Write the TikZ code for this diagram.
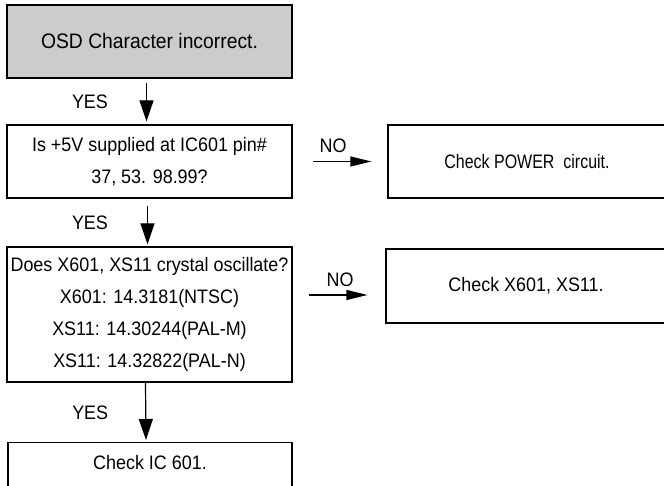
\documentclass[tikz,border=0pt]{standalone}
\usepackage{fontspec}
\setmainfont{Liberation Sans}[FakeStretch=0.92]
\newfontfamily\narrowfont{Liberation Sans}[FakeStretch=0.82]
\usetikzlibrary{positioning, calc, arrows.meta}

\begin{document}
\begin{tikzpicture}[
    x=1pt, y=1pt,
    every node/.style={font=\fontsize{19.5}{32}\selectfont},
    % Flowchart box: plain rectangle, thin border
    box/.style={rectangle, draw=black, line width=1.2pt,
        minimum width=285pt, minimum height=73pt,
        inner sep=0pt, align=center},
    % Start box: grey fill
    startbox/.style={box, fill=black!20, font=\fontsize{21}{32}\selectfont},
    % Answer label next to an arrow
    answer/.style={inner sep=2pt},
    % Arrows between boxes
    downarrow/.style={-{Triangle[length=21pt, width=14pt]}, line width=1.2pt},
    sidearrow/.style={-{Triangle[length=21pt, width=10pt]}, line width=1.2pt},
]

\useasboundingbox (0,0) rectangle (664,486);
\clip (0,0) rectangle (664,486);

% ====================================================
% LEFT COLUMN: YES path
% ====================================================
\node[startbox] (osd) at (149.5, 444.5) {OSD Character incorrect.};

\node[box] (supply) at (149.5, 324.5)
    {Is +5V supplied at IC601 pin\#\\37, 53. 98.99?};

\node[box, minimum height=135pt] (osc) at (149.5, 171.5)
    {Does X601, XS11 crystal oscillate?\\
     X601: 14.3181(NTSC)\\
     XS11: 14.30244(PAL-M)\\
     XS11: 14.32822(PAL-N)};

% Last box runs off the bottom edge
\node[box, minimum width=284pt, minimum height=80pt, anchor=north] (ic) at (150, 44) {};
\node (ic-text) at (150, 23) {Check IC 601.};

% ====================================================
% RIGHT COLUMN: NO path (boxes run off the right edge)
% ====================================================
\node[box, minimum width=278pt] (power) at (527, 324.5)
    {\narrowfont Check POWER~~circuit.};

\node[box, minimum width=280pt, minimum height=74pt] (xtal) at (526, 200)
    {Check X601, XS11.};

% ====================================================
% ARROWS
% ====================================================
\draw[downarrow, shorten <=4pt, shorten >=3pt] ([xshift=-3pt]osd.south) --
    node[answer, midway, left=36pt] {YES} ([xshift=-3pt]supply.north);
\draw[downarrow, shorten <=7pt, shorten >=2pt] ([xshift=-2pt]supply.south) --
    node[answer, midway, left=37pt] {YES} ([xshift=-2pt]osc.north);
\draw[downarrow, shorten >=2pt] ([xshift=-4pt]osc.south) --
    node[answer, midway, left=35pt] {YES} ([xshift=-4pt]ic.north);

\draw[sidearrow, shorten <=20pt, shorten >=16pt] (supply.east) --
    node[answer, midway, above=6pt, xshift=-7pt] {NO} (power.west);
\draw[sidearrow, shorten <=16pt, shorten >=18pt] ([yshift=19.5pt]osc.east) --
    node[answer, midway, above=6pt, xshift=1pt] {NO} ([yshift=-9pt]xtal.west);

\end{tikzpicture}
\end{document}
